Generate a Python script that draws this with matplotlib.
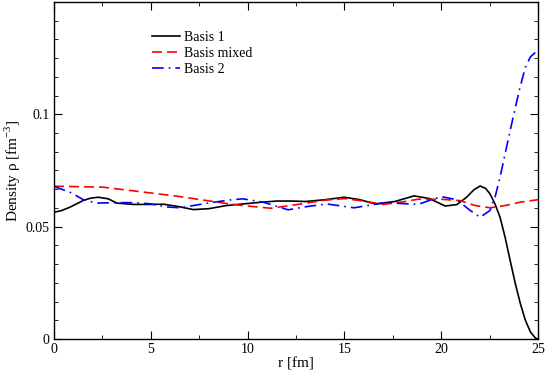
import matplotlib
matplotlib.use("Agg")
import matplotlib.pyplot as plt
from matplotlib.ticker import MultipleLocator

plt.rcParams['font.family'] = ['Liberation Serif', 'DejaVu Serif']
plt.rcParams['mathtext.fontset'] = 'custom'
plt.rcParams['mathtext.rm'] = 'Liberation Serif'

# Basis 1 (black solid)
r1 = [0.0, 0.4, 0.83, 1.2, 1.52, 1.9, 2.29, 2.8, 3.24, 4.1, 4.9, 5.65, 6.4, 7.2, 8.0, 8.9, 9.75, 10.6, 11.5, 12.3, 13.0, 14.0, 15.0, 15.8, 16.6, 17.6, 18.6, 19.4, 20.2, 20.8, 21.3, 21.7, 22.01, 22.3, 22.52, 22.78, 23.04, 23.3, 23.56, 23.83, 24.09, 24.35, 24.61, 24.87, 25.0]
d1 = [0.0564, 0.0572, 0.0587, 0.0603, 0.0617, 0.0627, 0.0631, 0.0624, 0.0605, 0.0599, 0.0599, 0.0600, 0.0590, 0.0576, 0.0580, 0.0594, 0.0601, 0.0608, 0.0614, 0.0614, 0.0612, 0.0620, 0.0631, 0.0620, 0.0601, 0.0612, 0.0637, 0.0625, 0.0592, 0.0598, 0.0630, 0.0665, 0.0681, 0.0670, 0.0646, 0.0601, 0.0542, 0.0453, 0.0350, 0.0246, 0.0157, 0.0083, 0.0031, 0.0004, 0.0]

# Basis mixed (red dashed)
rm = [0.0, 2.5, 5.0, 6.5, 7.9, 9.0, 9.75, 11.2, 12.6, 14.0, 15.0, 16.0, 17.0, 18.0, 18.8, 20.0, 20.97, 21.76, 22.52, 23.3, 24.09, 25.0]
dm = [0.0680, 0.0676, 0.0650, 0.0634, 0.0616, 0.0602, 0.0594, 0.0582, 0.0599, 0.0618, 0.0625, 0.0614, 0.0599, 0.0610, 0.0622, 0.0622, 0.0616, 0.0594, 0.0584, 0.0594, 0.0609, 0.0620]

# Basis 2 (blue dash-dot)
r2 = [0.0, 0.83, 1.52, 2.2, 3.24, 4.1, 4.96, 5.8, 6.5, 7.9, 9.0, 9.75, 10.8, 12.1, 13.1, 14.1, 15.5, 17.1, 18.8, 19.5, 20.0, 20.8, 21.5, 22.01, 22.52, 22.78, 23.04, 23.3, 23.56, 23.83, 24.09, 24.35, 24.61, 24.87, 25.0]
d2 = [0.0679, 0.0653, 0.0620, 0.0605, 0.0607, 0.0607, 0.0602, 0.0588, 0.0584, 0.0604, 0.0618, 0.0624, 0.0609, 0.0575, 0.0590, 0.0601, 0.0584, 0.0607, 0.0599, 0.0620, 0.0634, 0.0620, 0.0572, 0.0542, 0.0572, 0.0631, 0.0720, 0.0824, 0.0927, 0.1031, 0.1127, 0.1209, 0.1256, 0.1276, 0.1280]

fig = plt.figure(figsize=(5.45, 3.73), dpi=100)
ax = fig.add_axes([54/545, 34/373, 484/545, 337/373])

ax.plot(r1, d1, color='black', lw=1.2, label='Basis 1')
ax.plot(rm, dm, color='red', lw=1.2, dashes=(6, 3), label='Basis mixed')
ax.plot(r2, d2, color='blue', lw=1.2, dashes=(7, 3, 1, 3), label='Basis 2')

ax.set_xlim(0, 25)
ax.set_ylim(0, 0.15)
ax.xaxis.set_major_locator(MultipleLocator(5))
ax.xaxis.set_minor_locator(MultipleLocator(2.5))
ax.yaxis.set_major_locator(MultipleLocator(0.05))
ax.yaxis.set_minor_locator(MultipleLocator(0.05/6))
ax.set_yticks([0, 0.05, 0.1])
ax.set_yticklabels(['0', '0.05', '0.1'])
ax.set_xticks([0, 5, 10, 15, 20, 25])
ax.tick_params(which='both', direction='in', top=True, right=True, labelsize=10, pad=3)
ax.tick_params(which='major', length=6)
ax.tick_params(which='minor', length=3)
for s in ax.spines.values():
    s.set_linewidth(1.0)

ax.set_xlabel('r [fm]', fontsize=11, labelpad=1)
ax.set_ylabel('Density ρ [fm$^{-3}$]', fontsize=11, labelpad=2)

ax.legend(loc='upper left', bbox_to_anchor=(0.177, 0.95), frameon=False, fontsize=10,
          handlelength=2.0, handletextpad=0.3, labelspacing=0.2)

fig.savefig('out.png', dpi=100)
